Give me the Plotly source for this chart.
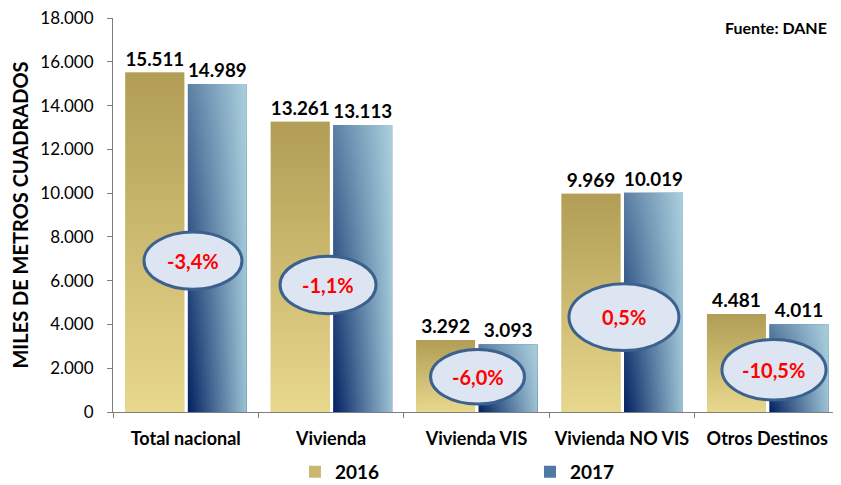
import plotly.graph_objects as go

categories = ["Total nacional", "Vivienda", "Vivienda VIS", "Vivienda NO VIS", "Otros Destinos"]
values_2016 = [15511, 13261, 3292, 9969, 4481]
values_2017 = [14989, 13113, 3093, 10019, 4011]
series_names = ["2016", "2017"]
y_tick_values = [0, 2000, 4000, 6000, 8000, 10000, 12000, 14000, 16000, 18000]

FONT = "Lato"
BAR_W = 0.405
OFFS = [-0.415, 0.015]
GOLD_TOP, GOLD_BOT = "#b19d55", "#e8d88d"
NAVY, MID, LIGHT = "#002060", "#5c7fa4", "#b7dee8"

# ellipse callouts (center offset, half width, y0, y1) in axis units
ell_dx = [0.050, -0.021, 0.007, 0.014, 0.046]
ell_hw = [0.337, 0.330, 0.323, 0.378, 0.358]
ell_y = [(5609, 8220), (4489, 7118), (363, 2856), (2811, 5862), (544, 3310)]

idx = list(range(len(categories)))
fig = go.Figure()

# base bars (legend + value labels)
for name, vals, off, col in [(series_names[0], values_2016, OFFS[0], "#cbb870"),
                             (series_names[1], values_2017, OFFS[1], "#4f78a6")]:
    fig.add_trace(go.Bar(
        x=idx, y=vals, name=name, width=BAR_W, offset=off,
        marker=dict(color=col, line=dict(width=0)),
        text=vals, texttemplate="%{y:,.0f}", textposition="outside",
        textfont=dict(family=FONT, size=19, color="black", weight="bold"),
        cliponaxis=False, hoverinfo="skip",
    ))

# gradient overlays
def rect(i, off, v):
    x0, x1 = i + off, i + off + BAR_W
    return [x0, x1, x1, x0, x0], [0, 0, v, v, 0]

for i, v in enumerate(values_2016):
    xs, ys = rect(i, OFFS[0], v)
    fig.add_trace(go.Scatter(x=xs, y=ys, mode="lines", fill="toself", line=dict(width=0),
                             fillgradient=dict(type="vertical", colorscale=[[0, GOLD_BOT], [1, GOLD_TOP]]),
                             showlegend=False, hoverinfo="skip"))
for i, v in enumerate(values_2017):
    xs, ys = rect(i, OFFS[1], v)
    fig.add_trace(go.Scatter(x=xs, y=ys, mode="lines", fill="toself", line=dict(width=0),
                             fillgradient=dict(type="vertical", colorscale=[[0, NAVY], [1, MID]]),
                             showlegend=False, hoverinfo="skip"))
    fig.add_trace(go.Scatter(x=xs, y=ys, mode="lines", fill="toself", line=dict(width=0),
                             fillgradient=dict(type="horizontal",
                                               colorscale=[[0, "rgba(183,222,232,0)"], [1, "rgba(183,222,232,0.85)"]]),
                             showlegend=False, hoverinfo="skip"))

# percentage change callouts
for i in idx:
    pct = (values_2017[i] - values_2016[i]) / values_2016[i] * 100
    label = f"{pct:.1f}%".replace(".", ",")
    cx = i + ell_dx[i]
    y0, y1 = ell_y[i]
    fig.add_shape(type="circle", xref="x", yref="y",
                  x0=cx - ell_hw[i], x1=cx + ell_hw[i], y0=y0, y1=y1,
                  line=dict(color="#3d618e", width=3), fillcolor="#dce5f1", layer="above")
    fig.add_annotation(x=cx, y=(y0 + y1) / 2, xref="x", yref="y", text=label, showarrow=False,
                       font=dict(family=FONT, size=20, color="#ff0000", weight="bold"))

fig.add_annotation(x=0.985, y=0.975, xref="paper", yref="paper", xanchor="right", yanchor="middle",
                   text="Fuente: DANE", showarrow=False,
                   font=dict(family=FONT, size=16, color="black", weight="bold"))

fig.update_layout(
    width=833, height=477,
    margin=dict(l=105, r=1, t=10, b=73, autoexpand=False),
    paper_bgcolor="white", plot_bgcolor="white",
    separators=",.",
    barmode="overlay",
    font=dict(family=FONT, color="black"),
    showlegend=True,
    legend=dict(orientation="h", x=0.2503, xanchor="left", y=-0.152, yanchor="middle",
                entrywidth=190, font=dict(family=FONT, size=19, color="black", weight="bold"),
                bgcolor="rgba(0,0,0,0)"),
    xaxis=dict(range=[-0.5, 4.5], tickmode="array", tickvals=idx, ticktext=categories,
               ticks="", showline=True, linecolor="#7f7f7f", linewidth=1, showgrid=False,
               zeroline=False, ticklabelstandoff=10, automargin=False,
               tickfont=dict(family=FONT, size=18, color="black", weight="bold"),
               minor=dict(tickmode="linear", tick0=-0.5, dtick=1, ticks="outside",
                          ticklen=5, tickcolor="#7f7f7f", showgrid=False)),
    yaxis=dict(range=[0, 18000], tickmode="array", tickvals=y_tick_values, tickformat=",.0f",
               ticks="outside", ticklen=5, tickcolor="#7f7f7f", showline=True,
               linecolor="#7f7f7f", linewidth=1, showgrid=False, zeroline=False,
               ticklabelstandoff=10, automargin=False, ticklabeloverflow="allow",
               tickfont=dict(family=FONT, size=17, color="black"),
               title=dict(text="MILES DE METROS CUADRADOS", standoff=8,
                          font=dict(family=FONT, size=20, color="black", weight="bold"))),
)

fig.write_html("out.html")
